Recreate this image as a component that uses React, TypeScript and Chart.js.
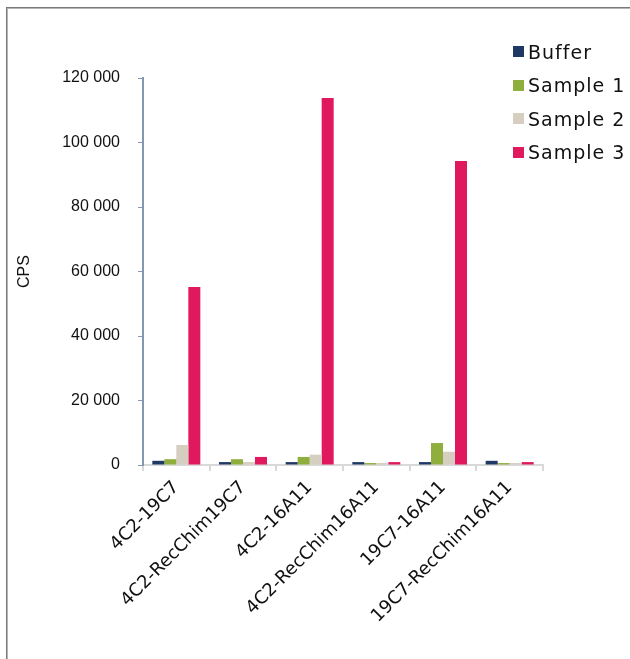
import React, { useEffect, useRef } from 'react';
import { Chart, registerables } from 'chart.js';

Chart.register(...registerables);

const categories = [
  '4C2-19C7',
  '4C2-RecChim19C7',
  '4C2-16A11',
  '4C2-RecChim16A11',
  '19C7-16A11',
  '19C7-RecChim16A11',
];
const bufferValues = [1300, 900, 900, 900, 900, 1300];
const sample1Values = [1800, 1800, 2500, 600, 6800, 600];
const sample2Values = [6200, 900, 3200, 600, 4100, 600];
const sample3Values = [55200, 2500, 113800, 900, 94300, 900];
const seriesNames = ['Buffer', 'Sample 1', 'Sample 2', 'Sample 3'];
const seriesColors = ['#1f3864', '#8fae3d', '#d5cec1', '#e0185e'];
const yMin = 0;
const yMax = 120000;
const yStep = 20000;
const yTitle = 'CPS';

const fmt = (v: number) => String(Math.round(v)).replace(/\B(?=(\d{3})+(?!\d))/g, ' ');

export default function App() {
  const ref = useRef<HTMLCanvasElement | null>(null);

  useEffect(() => {
    if (!ref.current) return;
    const seriesValues = [bufferValues, sample1Values, sample2Values, sample3Values];
    const chart = new Chart(ref.current, {
      type: 'bar',
      data: {
        labels: categories,
        datasets: seriesNames.map((name, i) => ({
          label: name,
          data: seriesValues[i],
          backgroundColor: seriesColors[i],
          borderWidth: 0,
          categoryPercentage: 0.72,
          barPercentage: 1,
        })),
      },
      options: {
        animation: false,
        responsive: false,
        maintainAspectRatio: false,
        layout: { padding: { left: 0, right: 87, top: 78, bottom: 0 } },
        plugins: {
          legend: { display: false },
          tooltip: { enabled: false },
        },
        scales: {
          x: {
            afterFit: (scale: any) => {
              scale.height = 194;
            },
            grid: {
              drawOnChartArea: false,
              drawTicks: true,
              tickLength: 6,
              color: '#d9d9d9',
              lineWidth: 2,
            },
            border: { color: '#d9d9d9', width: 2 },
            ticks: {
              autoSkip: false,
              minRotation: 45,
              maxRotation: 45,
              padding: 6,
              color: '#111111',
              font: { family: '"DejaVu Sans"', size: 18 },
            },
          },
          y: {
            min: yMin,
            max: yMax,
            afterFit: (scale: any) => {
              scale.width = 143;
            },
            grid: {
              drawOnChartArea: false,
              drawTicks: true,
              tickLength: 5,
              color: '#8497b0',
              lineWidth: 1,
            },
            border: { color: '#8497b0', width: 2 },
            ticks: {
              stepSize: yStep,
              padding: 18,
              color: '#111111',
              font: { family: '"Liberation Sans", Arial', size: 16 },
              callback: (v: any) => fmt(Number(v)),
            },
            title: {
              display: true,
              text: yTitle,
              color: '#111111',
              font: { family: '"Liberation Sans", Arial', size: 16 },
              padding: { top: 15, bottom: 0 },
            },
          },
        },
      },
    });
    return () => chart.destroy();
  }, []);

  return (
    <div style={{ position: 'fixed', left: 0, top: 0, width: 630, height: 659, overflow: 'hidden', background: '#fff' }}>
      <div
        style={{
          position: 'absolute',
          left: 6,
          top: 7,
          width: 700,
          height: 700,
          border: '1px solid #7a7a7a',
          boxShadow: 'inset 1px 1px 0 #b5b5b5',
        }}
      />
      <canvas ref={ref} width={630} height={659} style={{ position: 'absolute', left: 0, top: 0, width: 630, height: 659 }} />
      <div style={{ position: 'absolute', left: 513, top: 35 }}>
        {seriesNames.map((name, i) => (
          <div key={name} style={{ display: 'flex', alignItems: 'center', height: 33.5 }}>
            <span style={{ display: 'inline-block', width: 11, height: 11, background: seriesColors[i], marginRight: 4 }} />
            <span
              style={{
                fontFamily: '"DejaVu Sans"',
                fontSize: 19,
                letterSpacing: '1px',
                color: '#111111',
                lineHeight: '20px',
                whiteSpace: 'nowrap',
              }}
            >
              {name}
            </span>
          </div>
        ))}
      </div>
    </div>
  );
}
